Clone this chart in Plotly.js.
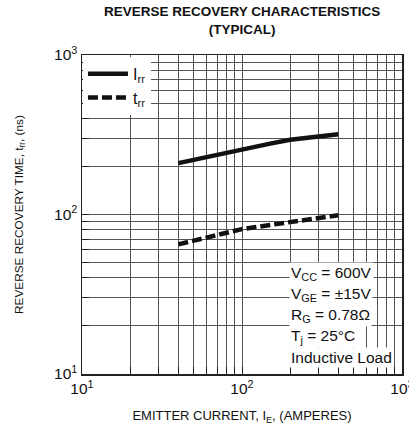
<!DOCTYPE html>
<html>
<head>
<meta charset="utf-8">
<script src="https://cdn.plot.ly/plotly-3.0.1.min.js"></script>
<style>html,body{margin:0;padding:0;background:#fff;}#chart{width:409px;height:427px;overflow:hidden;}</style>
</head>
<body>
<div id="chart"></div>
<script>
// Data
const emitterCurrent = [40, 60, 100, 150, 200, 300, 400];
const irrValues = [210, 230, 258, 278, 294, 310, 318];
const trrValues = [65, 72, 81, 86, 90, 96, 99];
const seriesNames = ['I<sub>rr</sub>', 't<sub>rr</sub>'];

const xTickVals = [10,20,30,40,50,60,70,80,90,100,200,300,400,500,600,700,800,900,1000];
const xTickText = ['10<sup>1</sup>','','','','','','','','','10<sup>2</sup>','','','','','','','','','10<sup>3</sup>'];
const yTickVals = [10,20,30,40,50,60,70,80,90,100,200,300,400,500,600,700,800,900,1000];
const yTickText = ['10<sup>1</sup>','','','','','','','','','10<sup>2</sup>','','','','','','','','','10<sup>3</sup>'];

const conditionLines = [
  'V<sub>CC</sub> = 600V',
  'V<sub>GE</sub> = ±15V',
  'R<sub>G</sub> = 0.78Ω',
  'T<sub>j</sub> = 25°C',
  'Inductive Load'
];

const FONT = 'Liberation Sans, Arial, sans-serif';

const traces = [
  {x: emitterCurrent, y: irrValues, name: seriesNames[0], mode: 'lines',
   line: {color: '#111', width: 4.5}},
  {x: emitterCurrent, y: trrValues, name: seriesNames[1], mode: 'lines',
   line: {color: '#111', width: 4.5, dash: '10px,4px'}}
];

const axisCommon = {
  type: 'log',
  tickmode: 'array',
  ticks: 'inside',
  ticklen: 7,
  tickwidth: 1,
  tickcolor: '#222',
  showgrid: true,
  gridcolor: '#555',
  gridwidth: 1,
  showline: true,
  linecolor: '#222',
  linewidth: 1.5,
  mirror: true,
  zeroline: false,
  ticklabeloverflow: 'allow',
  tickfont: {family: FONT, size: 15.5, color: '#111'}
};

// plot area in pixels: left 82, right 402, top 55, bottom 374
const annX = (289 - 82) / 320;
const annCenters = [273, 294, 315, 336, 357];
const annotations = conditionLines.map((t, i) => ({
  xref: 'paper', yref: 'paper', x: annX, y: (374 - annCenters[i]) / 319,
  xanchor: 'left', yanchor: 'middle', align: 'left',
  text: t, showarrow: false, bgcolor: '#fff', borderpad: 1,
  font: {family: FONT, size: 15.5, color: '#111'}
}));

const layout = {
  width: 409, height: 427,
  margin: {l: 82, r: 7, t: 55, b: 53},
  paper_bgcolor: '#fff', plot_bgcolor: '#fff',
  showlegend: true,
  title: {
    text: '<b>REVERSE RECOVERY CHARACTERISTICS</b><br><b>(TYPICAL)</b>',
    font: {family: FONT, size: 13.5, color: '#111'},
    x: 0.592, xanchor: 'center', xref: 'container',
    y: 0.962, yanchor: 'top', yref: 'container'
  },
  xaxis: Object.assign({}, axisCommon, {
    range: [1, 3],
    tickvals: xTickVals, ticktext: xTickText,
    title: {text: 'EMITTER CURRENT, I<sub>E</sub>, (AMPERES)',
            font: {family: FONT, size: 13, color: '#111'}, standoff: 15}
  }),
  yaxis: Object.assign({}, axisCommon, {
    range: [1, 3],
    tickvals: yTickVals, ticktext: yTickText,
    title: {text: 'REVERSE RECOVERY TIME, t<sub>rr</sub>, (ns)',
            font: {family: FONT, size: 11.8, color: '#111'}, standoff: 28}
  }),
  legend: {
    x: 0.003, y: 0.994, xanchor: 'left', yanchor: 'top',
    bgcolor: '#fff', borderwidth: 0,
    font: {family: FONT, size: 16, color: '#111'},
    itemwidth: 40,
    tracegroupgap: 0
  },
  annotations: annotations
};

Plotly.newPlot('chart', traces, layout, {displayModeBar: false, staticPlot: true});
</script>
</body>
</html>
